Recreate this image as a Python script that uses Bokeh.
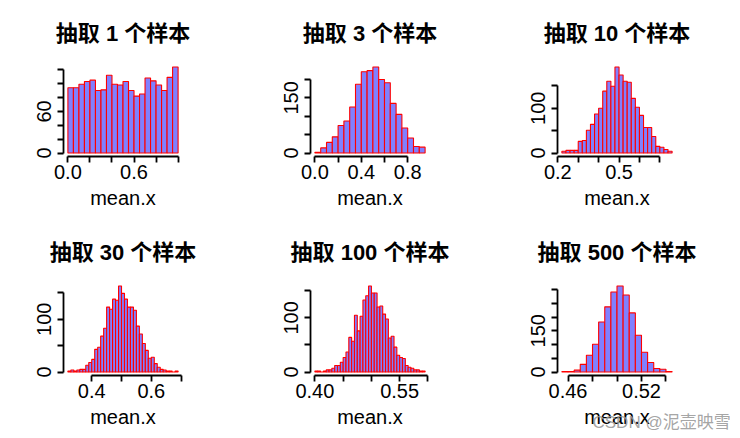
from bokeh.plotting import figure
from bokeh.layouts import column, row
from bokeh.models import Range1d, FixedTicker, PrintfTickFormatter, Title
from bokeh.embed import file_html
from bokeh.resources import INLINE

# ---- data ----
sample_sizes = [1, 3, 10, 30, 100, 500]
titles = ["抽取 %d 个样本" % n for n in sample_sizes]
bin_start = [0.0, 0.0, 0.22, 0.32, 0.40, 0.455]
bin_width = [0.05, 0.05, 0.02, 0.01, 0.005, 0.005]
counts_n1 = [94, 94, 99, 103, 105, 90, 91, 112, 99, 98, 103, 90, 82, 85, 108, 104, 98, 90, 109, 124]
counts_n3 = [2, 14, 29, 44, 75, 87, 125, 187, 221, 224, 234, 200, 191, 135, 105, 68, 41, 18, 16]
counts_n10 = [4, 6, 6, 6, 26, 28, 51, 64, 87, 100, 138, 160, 149, 192, 174, 160, 158, 122, 102,
              84, 57, 57, 37, 15, 13, 8, 4]
counts_n30 = [2, 4, 2, 4, 5, 5, 13, 18, 24, 43, 47, 68, 83, 123, 119, 138, 136, 163, 149, 138,
              123, 123, 117, 87, 72, 54, 41, 26, 28, 16, 9, 5, 4, 2, 2, 0, 2]
counts_n100 = [2, 2, 0, 2, 4, 4, 7, 12, 12, 18, 27, 37, 64, 57, 105, 76, 103, 133, 141, 159,
               146, 146, 120, 122, 107, 98, 63, 66, 46, 31, 27, 25, 12, 9, 7, 4, 4, 2, 2]
counts_n500 = [2, 2, 7, 28, 61, 101, 182, 237, 291, 313, 280, 215, 134, 72, 35, 13, 10, 2]
all_counts = [counts_n1, counts_n3, counts_n10, counts_n30, counts_n100, counts_n500]

x_ticks = [[0.0, 0.2, 0.4, 0.6, 0.8, 1.0],
           [0.0, 0.2, 0.4, 0.6, 0.8],
           [0.2, 0.3, 0.4, 0.5, 0.6, 0.7],
           [0.4, 0.5, 0.6, 0.7],
           [0.40, 0.45, 0.50, 0.55, 0.60],
           [0.46, 0.48, 0.50, 0.52, 0.54]]
x_labeled = [[0.0, 0.6], [0.0, 0.4, 0.8], [0.2, 0.5], [0.4, 0.6], [0.40, 0.55], [0.46, 0.52]]
x_formats = ["%.1f", "%.1f", "%.1f", "%.1f", "%.2f", "%.2f"]
y_ticks = [list(range(0, 121, 20)), list(range(0, 201, 50)), list(range(0, 151, 50)),
           list(range(0, 151, 50)), list(range(0, 151, 50)), list(range(0, 301, 50))]
y_labeled = [[0, 60], [0, 150], [0, 100], [0, 100], [0, 100], [0, 150]]
x_label = "mean.x"
watermark = "CSDN @泥壶映雪"

FILL = "#8080FF"
EDGE = "#FF0000"
TICK_FONT = "Liberation Sans"
TITLE_FONT = "Liberation Sans, Noto Sans CJK SC"


def make_panel(i, width):
    counts = all_counts[i]
    start, w = bin_start[i], bin_width[i]
    n = len(counts)
    left = [start + k * w for k in range(n)]
    right = [start + (k + 1) * w for k in range(n)]
    b0, b1 = left[0], right[-1]
    pad = 0.04 * (b1 - b0)
    M = max(counts)
    p = figure(width=width, height=219, output_backend="svg", toolbar_location=None,
               x_range=Range1d(b0 - pad, b1 + pad), y_range=Range1d(-0.04 * M, 1.04 * M),
               min_border_left=63, min_border_right=width - 63 - 119,
               min_border_top=63, min_border_bottom=63)
    p.quad(left=left, right=right, bottom=0, top=counts,
           fill_color=FILL, line_color=EDGE, line_width=1.1)
    p.grid.visible = False
    p.outline_line_color = None
    p.background_fill_color = "white"
    p.border_fill_color = "white"

    p.title.text = titles[i]
    p.title.align = "center"
    p.title.text_font = TITLE_FONT
    p.title.text_font_size = "22px"
    p.title.text_font_style = "bold"
    p.title.text_color = "black"
    p.title.standoff = 35

    unl_x = [t for t in x_ticks[i] if t not in x_labeled[i]]
    unl_y = [t for t in y_ticks[i] if t not in y_labeled[i]]
    xa = p.xaxis[0]
    xa.ticker = FixedTicker(ticks=x_labeled[i], minor_ticks=unl_x)
    xa.formatter = PrintfTickFormatter(format=x_formats[i])
    xa.bounds = (x_ticks[i][0], x_ticks[i][-1])
    xa.axis_label = x_label
    xa.axis_label_text_font = TICK_FONT
    xa.axis_label_text_font_size = "20px"
    xa.axis_label_text_font_style = "normal"
    xa.axis_label_text_color = "black"
    xa.axis_label_standoff = 5
    xa.major_label_standoff = 2

    ya = p.yaxis[0]
    ya.ticker = FixedTicker(ticks=y_labeled[i], minor_ticks=unl_y)
    ya.formatter = PrintfTickFormatter(format="%d")
    ya.bounds = (y_ticks[i][0], y_ticks[i][-1])
    ya.major_label_orientation = "vertical"
    ya.major_label_standoff = 6

    for ax in (xa, ya):
        ax.axis_line_color = "black"
        ax.axis_line_width = 1.8
        ax.major_tick_line_color = "black"
        ax.major_tick_line_width = 1.8
        ax.minor_tick_line_color = "black"
        ax.minor_tick_line_width = 1.8
        ax.major_tick_in = 0
        ax.major_tick_out = 6
        ax.minor_tick_in = 0
        ax.minor_tick_out = 6
        ax.major_label_text_font = TICK_FONT
        ax.major_label_text_font_size = "20px"
        ax.major_label_text_color = "black"
    return p


widths = [247, 247, 246]
panels = [make_panel(i, widths[i % 3]) for i in range(6)]

panels[5].add_layout(Title(text=watermark, align="left", vertical_align="top", offset=35,
                           standoff=-36,
                           text_font="Liberation Sans, Noto Sans CJK SC", text_font_size="17px",
                           text_font_style="normal", text_color="#9a9a9a", text_alpha=0.9),
                     "below")

layout = column(row(*panels[:3]), row(*panels[3:]))
open("out.html", "w").write(file_html(layout, INLINE))
